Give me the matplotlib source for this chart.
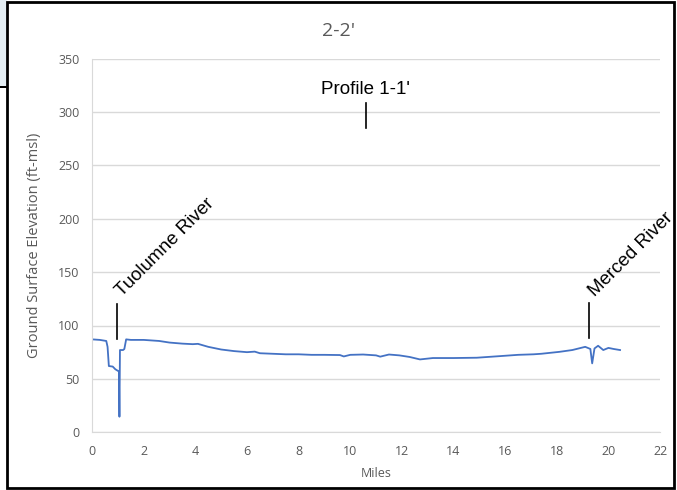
import matplotlib.pyplot as plt
from matplotlib.patches import Rectangle

# profile 2-2' ground surface
miles = [0, 0.3, 0.55, 0.6, 0.65, 0.8, 0.9, 1.0, 1.04, 1.06, 1.08, 1.2, 1.25, 1.32,
         1.5, 2.0, 2.6, 3.0, 3.5, 3.9, 4.1, 4.5, 5.0, 5.5, 6.0, 6.3, 6.5, 7.0, 7.5,
         8.0, 8.5, 9.0, 9.6, 9.75, 10.0, 10.5, 11.0, 11.16, 11.5, 11.9, 12.3, 12.7,
         13.2, 14.0, 14.9, 15.8, 16.5, 17.1, 17.4, 18.1, 18.6, 19.1, 19.3, 19.37,
         19.46, 19.6, 19.8, 20.0, 20.2, 20.45]
elevation = [87, 86.5, 85.5, 80, 62, 61.5, 59, 57.5, 57, 14.5, 77, 77, 78, 87,
             86.5, 86.5, 85.5, 84, 83, 82.5, 82.8, 80, 77.5, 76, 75, 75.5, 74, 73.5, 73,
             73, 72.5, 72.5, 72.3, 71, 72.5, 72.8, 72, 70.8, 72.8, 72, 70.5, 68.2,
             69.5, 69.5, 69.8, 71.3, 72.5, 73, 73.5, 75.3, 77, 80, 78, 64.5,
             78.5, 81, 77, 79, 78, 77]

x_ticks = list(range(0, 23, 2))
y_ticks = list(range(0, 351, 50))

# labels: (text, x, line bottom, line top, text x, text y, rotation)
labels = [
    ("Tuolumne River", 0.98, 87, 120, 1.28, 124, 45),
    ("Merced River", 19.26, 88, 121, 19.58, 124, 45),
]

gray = "#595959"
grid = "#d9d9d9"

fig = plt.figure(figsize=(6.77, 4.9), dpi=100)
ax = fig.add_axes([0.136, 0.118, 0.839, 0.762])

ax.plot(miles, elevation, color="#4472C4", linewidth=1.3)

ax.set_xlim(0, 22)
ax.set_ylim(0, 350)
ax.set_xticks(x_ticks)
ax.set_yticks(y_ticks)
ax.tick_params(length=0, colors=gray, labelsize=9, pad=9)
for lab in ax.get_xticklabels() + ax.get_yticklabels():
    lab.set_family("Open Sans")
ax.grid(axis="y", color=grid, linewidth=1)
ax.set_axisbelow(True)
for side in ["top", "right"]:
    ax.spines[side].set_visible(False)
for side in ["left", "bottom"]:
    ax.spines[side].set_color(grid)

ax.set_xlabel("Miles", color=gray, fontsize=9, family="Open Sans", labelpad=7)
ax.set_ylabel("Ground Surface Elevation (ft-msl)", color=gray, fontsize=10.5,
              family="Open Sans", labelpad=12)

fig.text(0.5, 0.937, "2-2'", ha="center", va="center", color=gray, fontsize=14,
         family="Open Sans")

# profile crossing marker
ax.plot([10.62, 10.62], [285, 309], color="black", linewidth=1.2)
ax.text(10.6, 321, "Profile 1-1'", ha="center", va="center", fontsize=13.5,
        family="Liberation Sans", color="black")

for text, lx, y0, y1, tx, ty, rot in labels:
    ax.plot([lx, lx], [y0, y1], color="black", linewidth=1.2)
    ax.text(tx, ty, text, rotation=rot, rotation_mode="anchor", ha="left",
            va="bottom", fontsize=13.5, family="Liberation Sans", color="black")

# frame around the chart and the bit of the neighbouring image top-left
fig.patches.append(Rectangle((0, 0.82), 0.011, 0.18, transform=fig.transFigure,
                             facecolor="#e4eef4", edgecolor="none"))
fig.patches.append(Rectangle((0, 0.82), 0.011, 0.004, transform=fig.transFigure,
                             facecolor="black", edgecolor="none"))
fig.patches.append(Rectangle((0.011, 0.004), 0.985, 0.992, transform=fig.transFigure,
                             facecolor="none", edgecolor="black", linewidth=2))

fig.savefig("out.png", dpi=100)
